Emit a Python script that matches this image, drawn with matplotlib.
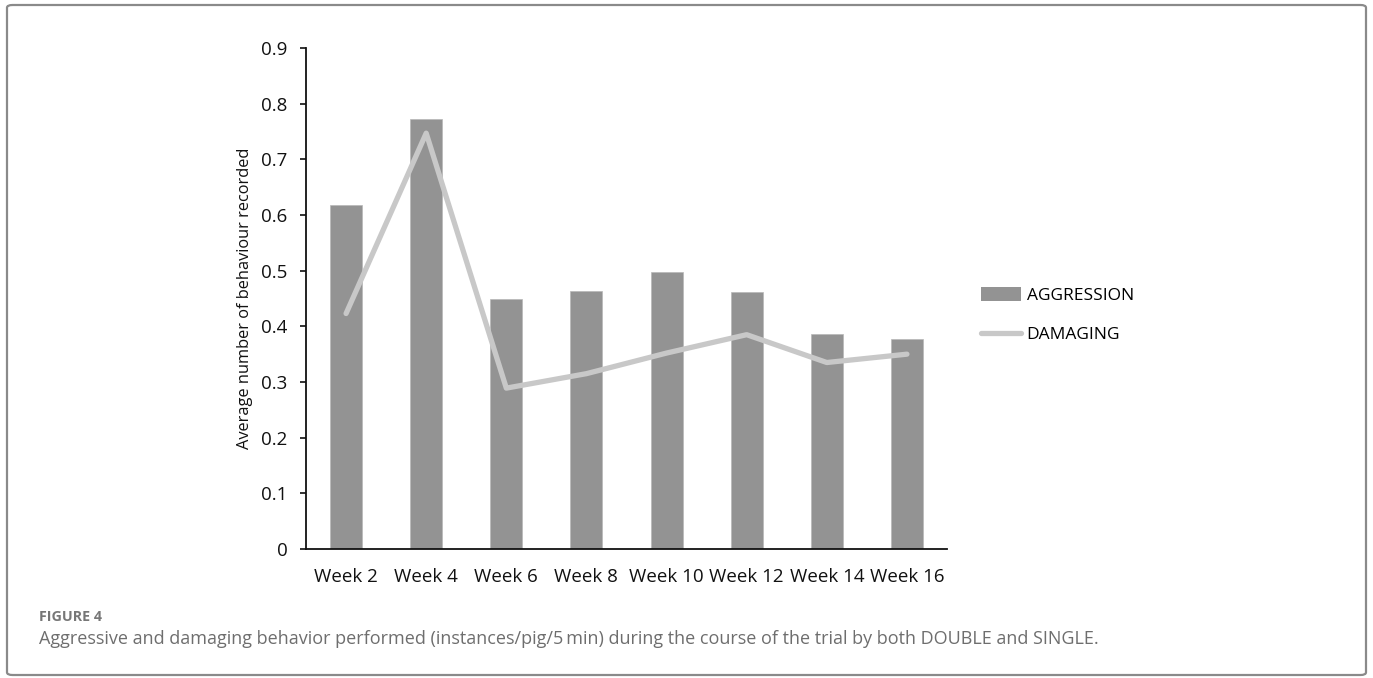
import matplotlib.pyplot as plt
from matplotlib.patches import FancyBboxPatch
from matplotlib.lines import Line2D
from matplotlib.patches import Patch

# weekly averages (instances/pig/5 min)
weeks = ["Week 2", "Week 4", "Week 6", "Week 8", "Week 10", "Week 12", "Week 14", "Week 16"]
aggression = [0.618, 0.773, 0.449, 0.464, 0.498, 0.461, 0.386, 0.378]
damaging = [0.423, 0.747, 0.289, 0.315, 0.352, 0.385, 0.335, 0.350]

W, H = 1373, 678
BAR_COLOR = "#939393"
LINE_COLOR = "#c8c8c8"


def px(x0, y0, x1, y1):
    # pixel box (top-left origin) -> figure fraction rect
    return [x0 / W, 1 - y1 / H, (x1 - x0) / W, (y1 - y0) / H]


def main():
    plt.rcParams["font.family"] = ["Open Sans", "DejaVu Sans"]
    fig = plt.figure(figsize=(W / 100, H / 100), dpi=100)

    # outer frame
    frame = FancyBboxPatch((7 / W, 1 - 675 / H), 1359 / W, 670 / H,
                           boxstyle="round,pad=0,rounding_size=0.004",
                           transform=fig.transFigure, fill=False,
                           edgecolor="#8a8a8a", linewidth=1.6)
    fig.patches.append(frame)

    ax = fig.add_axes(px(306, 48, 947, 549))
    x = list(range(len(weeks)))
    ax.bar(x, aggression, width=0.4, color=BAR_COLOR, edgecolor="#b8b8b8",
           linewidth=0.5, zorder=2)
    ax.plot(x, damaging, color=LINE_COLOR, linewidth=3.8,
            solid_capstyle="round", solid_joinstyle="round", zorder=3)

    ax.set_xlim(-0.5, len(weeks) - 0.5)
    ax.set_ylim(0, 0.9)
    ax.set_yticks([i / 10 for i in range(10)])
    ax.set_yticklabels(["0"] + ["0.%d" % i for i in range(1, 10)])
    ax.set_xticks(x)
    ax.set_xticklabels(weeks)

    for side in ("top", "right"):
        ax.spines[side].set_visible(False)
    ax.spines["left"].set_linewidth(1.3)
    ax.spines["bottom"].set_linewidth(1.3)
    ax.spines["left"].set_color("#111111")
    ax.spines["bottom"].set_color("#111111")

    ax.tick_params(axis="y", direction="out", length=4.5, width=1.2,
                   pad=9, labelsize=13.5, colors="#111111")
    ax.tick_params(axis="x", length=0, pad=14, labelsize=13.5, colors="#111111")
    ax.set_ylabel("Average number of behaviour recorded", fontsize=11.8,
                  color="#111111", labelpad=6)

    handles = [Patch(facecolor=BAR_COLOR, edgecolor="none"),
               Line2D([], [], color=LINE_COLOR, linewidth=3.8,
                      solid_capstyle="round")]
    fig.legend(handles, ["AGGRESSION", "DAMAGING"], loc="center left",
               bbox_to_anchor=(965 / W, 1 - 315 / H), frameon=False,
               fontsize=12.5, handlelength=2.3, handleheight=0.9,
               handletextpad=0.35, labelspacing=1.3)

    fig.text(39 / W, 1 - 617 / H, "FIGURE 4", fontsize=10.3, color="#777777",
             fontweight="bold", va="center", ha="left")
    fig.text(39 / W, 1 - 639 / H,
             "Aggressive and damaging behavior performed (instances/pig/5\u2009min) "
             "during the course of the trial by both DOUBLE and SINGLE.",
             fontsize=13, color="#6e6e6e", va="center", ha="left")

    fig.savefig("out.png", dpi=100)


if __name__ == "__main__":
    main()
